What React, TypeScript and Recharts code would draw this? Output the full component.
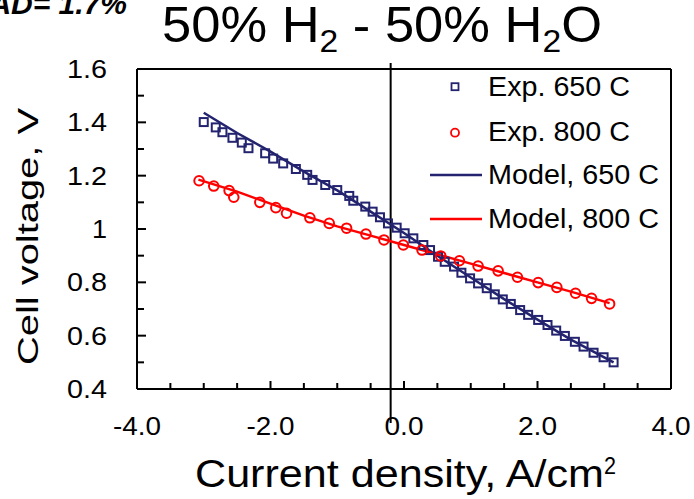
import { ComposedChart, Scatter, Line, XAxis, YAxis, ReferenceLine } from 'recharts';

// experimental points, 650 C
const exp650X = [-3.0, -2.82, -2.72, -2.57, -2.43, -2.33, -2.08, -1.96, -1.81, -1.62, -1.45, -1.37, -1.18, -1.0, -0.82, -0.76, -0.58, -0.47, -0.36, -0.24, -0.11, 0.01, 0.14, 0.29, 0.39, 0.51, 0.61, 0.75, 0.86, 0.99, 1.11, 1.24, 1.36, 1.48, 1.6, 1.74, 1.86, 2.01, 2.15, 2.28, 2.41, 2.56, 2.69, 2.84, 2.99, 3.14];
const exp650Y = [1.401, 1.381, 1.363, 1.342, 1.324, 1.303, 1.284, 1.264, 1.246, 1.225, 1.203, 1.184, 1.165, 1.146, 1.124, 1.106, 1.084, 1.065, 1.044, 1.021, 1.005, 0.984, 0.965, 0.94, 0.921, 0.896, 0.877, 0.859, 0.836, 0.815, 0.796, 0.778, 0.755, 0.736, 0.719, 0.696, 0.678, 0.659, 0.64, 0.619, 0.599, 0.577, 0.559, 0.536, 0.519, 0.5];

// experimental points, 800 C
const exp800X = [-3.07, -2.85, -2.62, -2.55, -2.16, -1.92, -1.76, -1.41, -1.12, -0.86, -0.57, -0.3, -0.01, 0.27, 0.55, 0.83, 1.11, 1.41, 1.7, 2.01, 2.29, 2.57, 2.81, 3.08];
const exp800Y = [1.181, 1.161, 1.144, 1.119, 1.1, 1.08, 1.059, 1.042, 1.021, 1.003, 0.981, 0.959, 0.94, 0.921, 0.899, 0.881, 0.861, 0.843, 0.819, 0.799, 0.781, 0.759, 0.74, 0.719];

// model curves
const model650X = [-3.0, -2.5, -2.0, -1.5, -1.0, -0.5, 0, 0.5, 1.0, 1.5, 2.0, 2.5, 3.14];
const model650Y = [1.436, 1.36, 1.29, 1.215, 1.145, 1.065, 0.985, 0.9, 0.818, 0.737, 0.66, 0.585, 0.5];
const model800X = [-3.08, -2.5, -2.0, -1.5, -1.0, -0.5, 0, 0.5, 1.0, 1.5, 2.0, 2.5, 3.08];
const model800Y = [1.185, 1.14, 1.095, 1.05, 1.01, 0.975, 0.94, 0.905, 0.87, 0.835, 0.8, 0.765, 0.722];

const xTicks = [-4, -3.5, -3, -2.5, -2, -1.5, -1, -0.5, 0, 0.5, 1, 1.5, 2, 2.5, 3, 3.5, 4];
const yTicks = [0.4, 0.5, 0.6, 0.7, 0.8, 0.9, 1.0, 1.1, 1.2, 1.3, 1.4, 1.5, 1.6];

const legendItems = ['Exp. 650 C', 'Exp. 800 C', 'Model, 650 C', 'Model, 800 C'];

const NAVY = '#23236f';
const RED = '#ff0000';
const FONT = '"Liberation Sans", Arial, sans-serif';

const zip = (xs: number[], ys: number[]) => xs.map((x, i) => ({ x, y: ys[i] }));

const exp650 = zip(exp650X, exp650Y);
const exp800 = zip(exp800X, exp800Y);
const model650 = zip(model650X, model650Y);
const model800 = zip(model800X, model800Y);

const XTick = ({ x, y, payload }: any) => {
  const v = payload.value;
  const major = Math.round(v * 2) % 4 === 0;
  const label = v.toFixed(1);
  return (
    <g>
      <line x1={x} y1={y} x2={x} y2={y - (major ? 8 : 6)} stroke="#000" strokeWidth={2} />
      {major && (
        <text x={x} y={y + 46} textAnchor="middle" fontSize={25} fontFamily={FONT} fill="#000"
          textLength={label.length > 3 ? 48 : 39} lengthAdjust="spacingAndGlyphs">
          {label}
        </text>
      )}
    </g>
  );
};

const YTick = ({ x, y, payload }: any) => {
  const v = payload.value;
  const major = Math.round(v * 10) % 2 === 0;
  const label = v === 1 ? '1' : v.toFixed(1);
  return (
    <g>
      <line x1={x} y1={y} x2={x + (major ? 9 : 7)} y2={y} stroke="#000" strokeWidth={2} />
      {major && (
        <text x={x - 30} y={y + 9} textAnchor="end" fontSize={25} fontFamily={FONT} fill="#000"
          textLength={label.length > 1 ? 40 : 15} lengthAdjust="spacingAndGlyphs">
          {label}
        </text>
      )}
    </g>
  );
};

const Square = ({ cx, cy }: any) => (
  <rect x={cx - 4} y={cy - 4} width={8} height={8} fill="none" stroke={NAVY} strokeWidth={2} />
);

const Circle = ({ cx, cy }: any) => (
  <circle cx={cx} cy={cy} r={4.8} fill="none" stroke={RED} strokeWidth={2} />
);

export default function App() {
  return (
    <div style={{ position: 'relative', width: 694, height: 499, background: '#fff', overflow: 'hidden' }}>
      <style>{'body{margin:0}'}</style>
      <ComposedChart width={694} height={499} margin={{ top: 69, right: 23, bottom: 0, left: 0 }}>
        <XAxis type="number" dataKey="x" domain={[-4, 4]} ticks={xTicks} interval={0} allowDataOverflow
          height={110} tickSize={0} tickMargin={0} tick={<XTick />} tickLine={false}
          axisLine={{ stroke: '#000', strokeWidth: 2 }} />
        <YAxis type="number" dataKey="y" domain={[0.4, 1.6]} ticks={yTicks} interval={0} allowDataOverflow
          width={137} tickSize={0} tickMargin={0} tick={<YTick />} tickLine={false}
          axisLine={{ stroke: '#000', strokeWidth: 2 }} />
        <ReferenceLine y={1.6} stroke="#000" strokeWidth={2} />
        <ReferenceLine x={4} stroke="#000" strokeWidth={2} />
        <ReferenceLine segment={[{ x: -0.2, y: 1.6225 }, { x: -0.2, y: 0.2725 }]} ifOverflow="visible"
          stroke="#000" strokeWidth={2} />
        <Scatter data={exp650} dataKey="y" shape={<Square />} isAnimationActive={false} />
        <Scatter data={exp800} dataKey="y" shape={<Circle />} isAnimationActive={false} />
        <Line data={model650} dataKey="y" stroke={NAVY} strokeWidth={2.5} dot={false} isAnimationActive={false} />
        <Line data={model800} dataKey="y" stroke={RED} strokeWidth={2.5} dot={false} isAnimationActive={false} />
      </ComposedChart>
      <svg width={694} height={499} style={{ position: 'absolute', left: 0, top: 0, pointerEvents: 'none' }}
        fontFamily={FONT}>
        <text x={127} y={14} textAnchor="end" fontSize={30} fontWeight="bold" fontStyle="italic">AAD= 1.7%</text>
        <text x={162} y={42} fontSize={50} textLength={440} lengthAdjust="spacingAndGlyphs">
          50% H<tspan fontSize={32} dy={10}>2</tspan><tspan dy={-10}> - 50% H</tspan>
          <tspan fontSize={32} dy={10}>2</tspan><tspan dy={-10}>O</tspan>
        </text>
        <text x={195} y={487} fontSize={38} textLength={409} lengthAdjust="spacingAndGlyphs">
          Current density, A/cm
        </text>
        <text x={604} y={474} fontSize={24} textLength={12} lengthAdjust="spacingAndGlyphs">2</text>
        <text transform="translate(38,236.5) rotate(-90)" textAnchor="middle" fontSize={30}
          textLength={257} lengthAdjust="spacingAndGlyphs">Cell voltage, V</text>
        {/* legend */}
        <rect x={451.5} y={83.2} width={7} height={7} fill="none" stroke={NAVY} strokeWidth={1.8} />
        <circle cx={455} cy={132.7} r={4} fill="none" stroke={RED} strokeWidth={1.8} />
        <line x1={430} y1={175} x2={482} y2={175} stroke={NAVY} strokeWidth={2.5} />
        <line x1={430} y1={219} x2={482} y2={219} stroke={RED} strokeWidth={2.5} />
        {legendItems.map((t, i) => (
          <text key={t} x={488} y={[96, 141, 184, 227.5][i]} fontSize={27}
            textLength={i < 2 ? 142 : 171} lengthAdjust="spacingAndGlyphs">{t}</text>
        ))}
      </svg>
    </div>
  );
}
